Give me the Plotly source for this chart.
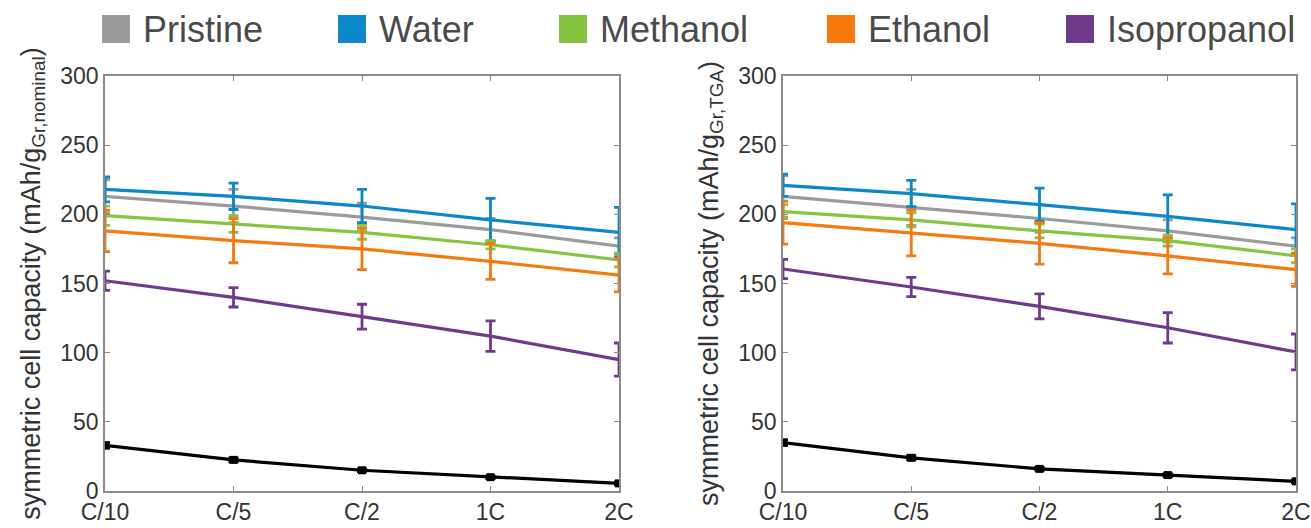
import plotly.graph_objects as go

rates = ["C/10", "C/5", "C/2", "1C", "2C"]
y_ticks = [0, 50, 100, 150, 200, 250, 300]

series_names = ["Pristine", "Water", "Methanol", "Ethanol", "Isopropanol"]
series_colors = ["#9b9b9b", "#0a88c9", "#85c441", "#f7780d", "#70398a"]

# Left panel: capacity per nominal graphite mass
pristine_nom = [213, 206, 198, 189, 177]
pristine_nom_err = [12, 12, 10, 8, 6]
water_nom = [218, 213, 206, 196, 187]
water_nom_err = [9, 9.5, 12, 15.5, 18]
methanol_nom = [199, 193, 187, 178, 167]
methanol_nom_err = [7, 6, 5, 3, 5]
ethanol_nom = [188, 181, 175, 166, 156]
ethanol_nom_err = [15, 16, 15, 13, 12]
isoprop_nom = [152, 140, 126, 112, 95]
isoprop_nom_err = [7, 7, 9, 11, 12]
base_nom = [33, 22.5, 15, 10, 5.5]
base_nom_err = [2, 1.5, 1, 1, 1]

# Right panel: capacity per TGA graphite mass
pristine_tga = [213, 205, 197, 188, 177]
pristine_tga_err = [15, 13, 10, 8, 6]
water_tga = [221, 215, 207, 198.5, 189]
water_tga_err = [8, 9.5, 12, 15.5, 18.5]
methanol_tga = [202, 196, 188, 181, 170]
methanol_tga_err = [5, 5, 5, 4, 5]
ethanol_tga = [194, 186.5, 179, 170, 160]
ethanol_tga_err = [15.5, 16.5, 15, 13, 12]
isoprop_tga = [160.5, 147.5, 133.5, 118, 100.5]
isoprop_tga_err = [7, 7, 9, 11, 13]
base_tga = [35, 24, 16, 11.5, 7]
base_tga_err = [2, 1.5, 1, 1, 1]

left_sets = [(pristine_nom, pristine_nom_err), (water_nom, water_nom_err),
             (methanol_nom, methanol_nom_err), (ethanol_nom, ethanol_nom_err),
             (isoprop_nom, isoprop_nom_err)]
right_sets = [(pristine_tga, pristine_tga_err), (water_tga, water_tga_err),
              (methanol_tga, methanol_tga_err), (ethanol_tga, ethanol_tga_err),
              (isoprop_tga, isoprop_tga_err)]

W, H = 1311, 528
fig = go.Figure()

def add_panel(sets, base, base_err, xa, ya):
    for (vals, errs), name, col in zip(sets, series_names, series_colors):
        fig.add_trace(go.Scatter(
            x=list(range(len(rates))), y=vals, name=name, mode="lines",
            line=dict(color=col, width=3.2),
            error_y=dict(type="data", array=errs, visible=True, color=col,
                         thickness=2.8, width=5),
            xaxis=xa, yaxis=ya, showlegend=False))
    fig.add_trace(go.Scatter(
        x=list(range(len(rates))), y=base, name="Baseline", mode="lines+markers",
        line=dict(color="black", width=3.2),
        marker=dict(symbol="square", size=8, color="black"),
        error_y=dict(type="data", array=base_err, visible=True, color="black",
                     thickness=2.8, width=5),
        xaxis=xa, yaxis=ya, showlegend=False))

add_panel(left_sets, base_nom, base_nom_err, "x", "y")
add_panel(right_sets, base_tga, base_tga_err, "x2", "y2")

axis_col = "#8a8a8a"
tick_font = dict(family="Liberation Sans, Arial, sans-serif", size=23, color="#333333")

def xaxis_cfg(domain, anchor):
    return dict(domain=domain, anchor=anchor, range=[0, 4], tickmode="array",
                tickvals=list(range(len(rates))), ticktext=rates,
                showline=True, linecolor=axis_col, linewidth=1.5, mirror="ticks",
                ticks="inside", ticklen=5, tickcolor=axis_col, showgrid=False,
                zeroline=False, tickfont=tick_font, automargin=False)

def yaxis_cfg(domain, anchor, title):
    return dict(domain=domain, anchor=anchor, range=[0, 300], tickmode="array",
                tickvals=y_ticks, showline=True, linecolor=axis_col, linewidth=1.5,
                mirror="ticks", ticks="inside", ticklen=5, tickcolor=axis_col,
                showgrid=False, zeroline=False, tickfont=tick_font, automargin=False,
                title=dict(text=title, standoff=12,
                           font=dict(family="Liberation Sans, Arial, sans-serif",
                                     size=27, color="#333333")))

ydom = [(H - 491) / H, (H - 76) / H]
fig.update_layout(
    width=W, height=H, margin=dict(l=0, r=0, t=0, b=0),
    paper_bgcolor="white", plot_bgcolor="white", showlegend=False,
    xaxis=xaxis_cfg([105 / W, 619 / W], "y"),
    yaxis=yaxis_cfg(ydom, "x", "symmetric cell capacity (mAh/g<sub>Gr,nominal</sub>)"),
    xaxis2=xaxis_cfg([783 / W, 1296 / W], "y2"),
    yaxis2=yaxis_cfg(ydom, "x2", "symmetric cell capacity (mAh/g<sub>Gr,TGA</sub>)"),
)

# Manual legend with square swatches
legend_left_px = [102, 338, 559, 827, 1066]
for name, col, lx in zip(series_names, series_colors, legend_left_px):
    fig.add_shape(type="rect", xref="paper", yref="paper",
                  x0=lx / W, x1=(lx + 28) / W, y0=1 - 43 / H, y1=1 - 15 / H,
                  fillcolor=col, line=dict(width=0))
    fig.add_annotation(xref="paper", yref="paper", x=(lx + 39) / W, y=1 - 29 / H,
                       xanchor="left", yanchor="middle", text=name, showarrow=False,
                       font=dict(family="Liberation Sans, Arial, sans-serif",
                                 size=36, color="#4a4a4a"))

fig.write_html("out.html")
